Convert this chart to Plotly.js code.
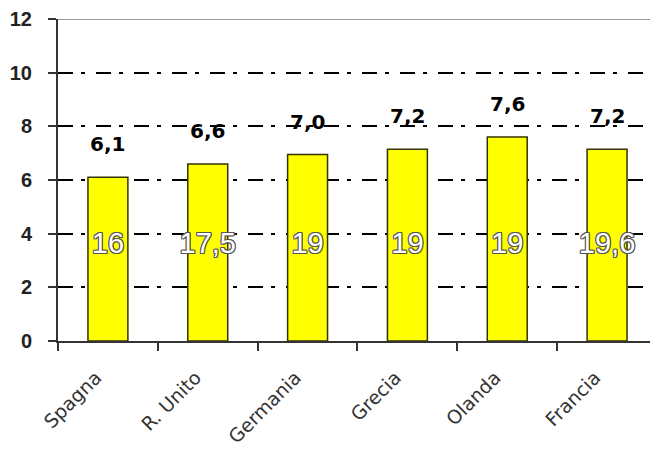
<!DOCTYPE html>
<html>
<head>
<meta charset="utf-8">
<script src="https://cdn.plot.ly/plotly-3.0.1.min.js"></script>
<style>html,body{margin:0;padding:0;background:#fff;}#chart{width:650px;height:456px;}</style>
</head>
<body>
<div id="chart"></div>
<script>
const countries = ["Spagna", "R. Unito", "Germania", "Grecia", "Olanda", "Francia"];
const values = [6.1, 6.6, 6.95, 7.15, 7.6, 7.15];
const valueLabels = ["6,1", "6,6", "7,0", "7,2", "7,6", "7,2"];
const innerLabels = ["16", "17,5", "19", "19", "19", "19,6"];
const innerLabelLevel = 3.55;
const yTicks = [0, 2, 4, 6, 8, 10, 12];

const bars = {
  type: "bar",
  x: countries,
  y: values,
  width: 0.4,
  marker: {color: "#FFFF00", line: {color: "#333300", width: 1.5}},
  hoverinfo: "skip"
};

const inner = {
  type: "scatter",
  mode: "text",
  x: countries,
  y: countries.map(() => innerLabelLevel),
  text: innerLabels,
  textposition: "middle center",
  textfont: {
    family: "Liberation Sans, Arial, sans-serif",
    size: 29,
    color: "#ffffff",
    shadow: "-1px -1px 0 #555, 1px -1px 0 #555, -1px 1px 0 #555, 1px 1px 0 #555, 0 1px 0 #555, 0 -1px 0 #555, 1px 0 0 #555, -1px 0 0 #555"
  },
  hoverinfo: "skip"
};

const annotations = countries.map((c, i) => ({
  x: c,
  y: values[i],
  xref: "x",
  yref: "y",
  text: valueLabels[i],
  showarrow: false,
  yshift: 33,
  font: {family: "DejaVu Sans, sans-serif", size: 20, color: "#000", weight: "bold"}
}));

const layout = {
  width: 650,
  height: 456,
  margin: {l: 58, r: 0, t: 19, b: 115},
  paper_bgcolor: "#ffffff",
  plot_bgcolor: "#ffffff",
  showlegend: false,
  bargap: 0.6,
  xaxis: {
    type: "category",
    range: [-0.5, 5.43],
    tickson: "boundaries",
    ticks: "outside",
    ticklen: 8,
    tickwidth: 2,
    tickcolor: "#333",
    showline: true,
    linecolor: "#333",
    linewidth: 2,
    showgrid: false,
    zeroline: false,
    tickangle: -45,
    ticklabelstandoff: 16,
    ticklabelshift: -12,
    tickfont: {family: "DejaVu Sans, sans-serif", size: 19, color: "#333"}
  },
  yaxis: {
    range: [0, 12],
    tickvals: yTicks,
    ticktext: yTicks.map(String),
    ticks: "outside",
    ticklen: 8,
    tickwidth: 2,
    tickcolor: "#333",
    showline: true,
    linecolor: "#333",
    linewidth: 2,
    showgrid: true,
    gridcolor: "#000",
    gridwidth: 2,
    griddash: "15px,8px,4px,11px",
    zeroline: false,
    ticklabelstandoff: 12,
    tickfont: {family: "Liberation Sans, Arial, sans-serif", size: 20, color: "#222", weight: "bold"}
  },
  shapes: [{
    type: "line", xref: "paper", yref: "y", x0: 0, x1: 1, y0: 12, y1: 12,
    line: {color: "#999", width: 2}
  }],
  annotations: annotations
};

Plotly.newPlot("chart", [bars, inner], layout, {displayModeBar: false, staticPlot: true});
</script>
</body>
</html>
